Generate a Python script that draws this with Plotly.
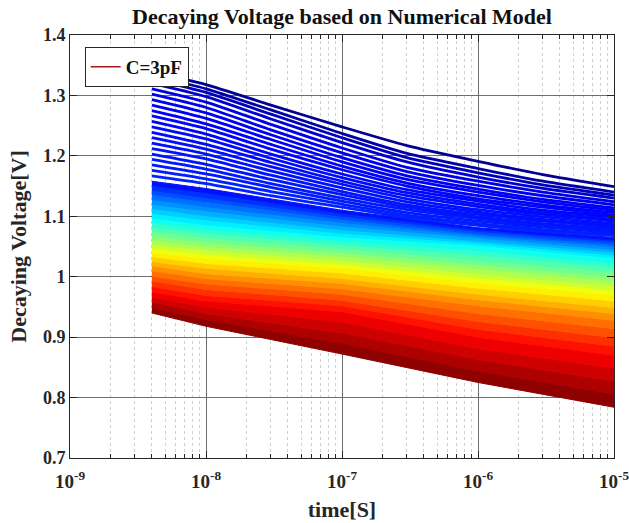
import plotly.graph_objects as go

# ---------------- data ----------------
title_text = "Decaying Voltage based on Numerical Model"
x_title = "time[S]"
y_title = "Decaying Voltage[V]"
legend_name = "C=3pF"

x_tickvals = [1e-9, 1e-8, 1e-7, 1e-6, 1e-5]
x_ticktext = ["10<sup>-9</sup>", "10<sup>-8</sup>", "10<sup>-7</sup>", "10<sup>-6</sup>", "10<sup>-5</sup>"]

# time samples of the dense (red..light-blue) part of the curve family
band_time = [4e-9, 1e-8, 1e-7, 1e-6, 1e-5]
# colour level (1 = dark red, 0 = dark blue) of each band edge
band_level = [1.0, 0.96875, 0.9375, 0.90625, 0.875, 0.84375, 0.8125, 0.78125,
              0.75, 0.71875, 0.6875, 0.65625, 0.625, 0.59375, 0.5625, 0.53125,
              0.5, 0.46875, 0.4375, 0.40625, 0.375, 0.34375, 0.3125, 0.28125,
              0.25, 0.21875, 0.1875, 0.15625, 0.125]
# voltage of each band edge at band_time
band_volt = [
    [0.940, 0.918, 0.872, 0.825, 0.784],
    [0.949, 0.929, 0.890, 0.844, 0.806],
    [0.958, 0.939, 0.907, 0.863, 0.827],
    [0.966, 0.950, 0.925, 0.881, 0.849],
    [0.975, 0.960, 0.942, 0.900, 0.870],
    [0.984, 0.969, 0.952, 0.913, 0.885],
    [0.993, 0.979, 0.961, 0.926, 0.899],
    [1.001, 0.988, 0.971, 0.939, 0.914],
    [1.010, 0.997, 0.980, 0.952, 0.928],
    [1.018, 1.005, 0.989, 0.962, 0.939],
    [1.025, 1.014, 0.997, 0.971, 0.949],
    [1.033, 1.022, 1.006, 0.981, 0.960],
    [1.040, 1.030, 1.014, 0.990, 0.970],
    [1.047, 1.037, 1.021, 0.998, 0.978],
    [1.054, 1.044, 1.027, 1.005, 0.985],
    [1.060, 1.050, 1.034, 1.013, 0.993],
    [1.067, 1.057, 1.040, 1.020, 1.000],
    [1.075, 1.064, 1.047, 1.028, 1.008],
    [1.082, 1.072, 1.053, 1.036, 1.016],
    [1.090, 1.079, 1.060, 1.044, 1.023],
    [1.097, 1.086, 1.066, 1.052, 1.031],
    [1.105, 1.094, 1.072, 1.056, 1.036],
    [1.113, 1.101, 1.078, 1.060, 1.041],
    [1.120, 1.109, 1.084, 1.064, 1.045],
    [1.128, 1.116, 1.090, 1.068, 1.050],
    [1.136, 1.124, 1.095, 1.071, 1.054],
    [1.143, 1.131, 1.100, 1.075, 1.058],
    [1.151, 1.139, 1.105, 1.078, 1.061],
    [1.158, 1.146, 1.110, 1.081, 1.065],
]

# time samples of the separate blue curves at the top
blue_time = [4e-9, 1e-8, 3e-8, 1e-7, 3e-7, 1e-6, 3e-6, 1e-5]
# colour level of each blue curve
blue_level = [0.02, 0.04, 0.06, 0.08, 0.10, 0.11, 0.115, 0.12, 0.125, 0.13,
              0.13, 0.135, 0.135, 0.14, 0.14, 0.145, 0.145, 0.15, 0.15, 0.155,
              0.16]
blue_volt = [
    [1.338, 1.318, 1.284, 1.248, 1.217, 1.191, 1.169, 1.149],
    [1.333, 1.311, 1.276, 1.237, 1.204, 1.179, 1.158, 1.140],
    [1.327, 1.305, 1.269, 1.230, 1.197, 1.172, 1.152, 1.135],
    [1.320, 1.298, 1.261, 1.222, 1.190, 1.165, 1.146, 1.130],
    [1.311, 1.289, 1.252, 1.213, 1.181, 1.158, 1.140, 1.124],
    [1.302, 1.280, 1.243, 1.205, 1.174, 1.151, 1.134, 1.119],
    [1.293, 1.271, 1.235, 1.197, 1.167, 1.145, 1.128, 1.114],
    [1.284, 1.262, 1.227, 1.190, 1.161, 1.140, 1.124, 1.110],
    [1.275, 1.253, 1.219, 1.183, 1.155, 1.134, 1.119, 1.106],
    [1.266, 1.245, 1.211, 1.177, 1.150, 1.129, 1.115, 1.102],
    [1.257, 1.236, 1.203, 1.170, 1.144, 1.125, 1.110, 1.099],
    [1.248, 1.228, 1.196, 1.164, 1.139, 1.120, 1.106, 1.095],
    [1.239, 1.219, 1.189, 1.158, 1.134, 1.116, 1.103, 1.092],
    [1.230, 1.211, 1.182, 1.153, 1.129, 1.111, 1.099, 1.088],
    [1.221, 1.203, 1.175, 1.147, 1.124, 1.107, 1.095, 1.085],
    [1.212, 1.195, 1.168, 1.141, 1.119, 1.103, 1.092, 1.082],
    [1.203, 1.186, 1.161, 1.136, 1.115, 1.099, 1.088, 1.079],
    [1.194, 1.178, 1.154, 1.130, 1.111, 1.096, 1.085, 1.076],
    [1.185, 1.170, 1.148, 1.125, 1.106, 1.092, 1.082, 1.073],
    [1.176, 1.162, 1.141, 1.120, 1.102, 1.088, 1.078, 1.070],
    [1.167, 1.154, 1.134, 1.115, 1.098, 1.085, 1.075, 1.068],
]


def jet(v):
    def c(x):
        return max(0.0, min(1.0, x))
    r = c(min(4 * v - 1.5, -4 * v + 4.5))
    g = c(min(4 * v - 0.5, -4 * v + 3.5))
    b = c(min(4 * v + 0.5, -4 * v + 2.5))
    return "rgb(%d,%d,%d)" % (round(r * 255), round(g * 255), round(b * 255))


SERIF = "Liberation Serif"
fig = go.Figure()

# dense part: filled strips between consecutive band edges
for i in range(len(band_volt) - 1):
    lo = band_volt[i]
    hi = band_volt[i + 1]
    col = jet((band_level[i] + band_level[i + 1]) / 2)
    fig.add_trace(go.Scatter(
        x=band_time + band_time[::-1],
        y=lo + hi[::-1],
        mode="lines", fill="toself", fillcolor=col,
        line=dict(color=col, width=1),
        showlegend=False, hoverinfo="skip"))

# separate blue curves (bottom first)
for lvl, ys in list(zip(blue_level, blue_volt))[::-1]:
    fig.add_trace(go.Scatter(
        x=blue_time, y=ys, mode="lines",
        line=dict(color=jet(lvl), width=2.8, shape="spline", smoothing=0.6),
        showlegend=False, hoverinfo="skip"))

# legend entry
fig.add_trace(go.Scatter(
    x=[None], y=[None], mode="lines", name=legend_name,
    line=dict(color="rgb(165,25,25)", width=1.5)))

axis_common = dict(
    showline=True, linecolor="#262626", linewidth=1, mirror="allticks",
    ticks="inside", ticklen=7, tickcolor="#262626",
    showgrid=True, gridcolor="#6e6e6e", gridwidth=1.2,
    zeroline=False, automargin=False, ticklabeloverflow="allow",
)

fig.update_layout(
    width=629, height=523,
    margin=dict(l=70, r=15, t=35, b=65),
    paper_bgcolor="white", plot_bgcolor="white",
    title=dict(text=title_text, x=0.5, xanchor="center", y=0.968, yanchor="middle",
               xref="paper",
               font=dict(family=SERIF, size=22, color="#111111", weight="bold")),
    xaxis=dict(
        type="log", range=[-9, -5],
        tickvals=x_tickvals, ticktext=x_ticktext,
        tickfont=dict(family=SERIF, size=19, color="#262626", weight="bold"),
        ticklabelstandoff=6,
        title=dict(text=x_title, standoff=10,
                   font=dict(family=SERIF, size=22, color="#262626", weight="bold")),
        minor=dict(ticks="inside", ticklen=4, tickcolor="#262626",
                   showgrid=True, gridcolor="#d0d0d0", griddash="dot", dtick="D1"),
        **axis_common),
    yaxis=dict(
        range=[0.7, 1.4], dtick=0.1, tick0=0.7,
        tickfont=dict(family=SERIF, size=18, color="#262626", weight="bold"),
        title=dict(text=y_title, standoff=10,
                   font=dict(family=SERIF, size=22, color="#262626", weight="bold")),
        **axis_common),
    legend=dict(x=0.027, y=0.972, xanchor="left", yanchor="top",
                bgcolor="white", bordercolor="#262626", borderwidth=1,
                font=dict(family=SERIF, size=19, color="#111111", weight="bold")),
)

fig.write_html("out.html")
